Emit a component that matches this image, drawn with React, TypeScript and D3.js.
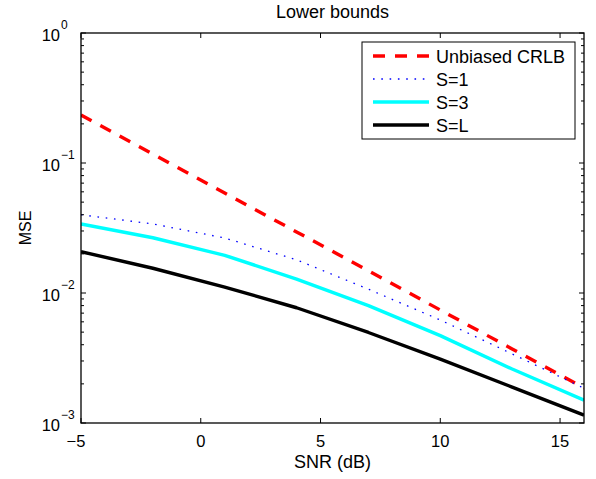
import React from "react";
import * as d3 from "d3";

const snr = [-5, -2, 1, 4, 7, 10, 13, 16];
const crlb = [0.234, 0.117, 0.0588, 0.0295, 0.0148, 0.0074, 0.00371, 0.00186];
const s1 = [0.04, 0.034, 0.0265, 0.018, 0.0107, 0.0062, 0.0034, 0.00185];
const s3 = [0.034, 0.0266, 0.0195, 0.0128, 0.008, 0.0047, 0.0026, 0.0015];
const sL = [0.0208, 0.0155, 0.0111, 0.0077, 0.00497, 0.0031, 0.00189, 0.00115];

const xTicks = [-5, 0, 5, 10, 15];
const yMajor = [1, 0.1, 0.01, 0.001];
const yExp = ["0", "\u22121", "\u22122", "\u22123"];
const legendLabels = ["Unbiased CRLB", "S=1", "S=3", "S=L"];

const W = 596;
const H = 479;
const M = { left: 81, right: 584, top: 33, bottom: 423 };
const FONT = "'Liberation Sans', Arial, Helvetica, sans-serif";

export default function App() {
  const x = d3.scaleLinear().domain([-5, 16]).range([M.left, M.right]);
  const y = d3.scaleLog().domain([0.001, 1]).range([M.bottom, M.top]);

  const series = [
    { data: crlb, color: "#ff0000", width: 3.4, dash: "12,10" },
    { data: s1, color: "#0000ff", width: 1.3, dash: "1.6,6.7" },
    { data: s3, color: "#00ffff", width: 3.4, dash: null },
    { data: sL, color: "#000000", width: 3.4, dash: null },
  ];

  const line = d3
    .line<number>()
    .x((_, i) => x(snr[i]))
    .y((d) => y(d));

  const minor: number[] = [];
  [0.001, 0.01, 0.1].forEach((b) => {
    for (let k = 2; k <= 9; k++) minor.push(b * k);
  });

  const legX0 = 362;
  const legY0 = 42;
  const legW = 213;
  const legH = 97;
  const rowY = (i: number) => 56 + i * 23;

  return (
    <svg
      width={W}
      height={H}
      style={{ position: "absolute", left: 0, top: 0, background: "#fff" }}
      fontFamily={FONT}
    >
      <rect x={0} y={0} width={W} height={H} fill="#fff" />
      <defs>
        <clipPath id="plotclip">
          <rect x={M.left} y={M.top} width={M.right - M.left} height={M.bottom - M.top} />
        </clipPath>
      </defs>

      <g clipPath="url(#plotclip)">
        {series.map((s, i) => (
          <path
            key={i}
            d={line(s.data) || ""}
            fill="none"
            stroke={s.color}
            strokeWidth={s.width}
            strokeDasharray={s.dash || undefined}
            strokeLinecap="butt"
            strokeLinejoin="round"
          />
        ))}
      </g>

      <rect
        x={M.left}
        y={M.top}
        width={M.right - M.left}
        height={M.bottom - M.top}
        fill="none"
        stroke="#000"
        strokeWidth={1.3}
      />

      {xTicks.map((t) => (
        <g key={"xt" + t}>
          <line x1={x(t)} x2={x(t)} y1={M.bottom} y2={M.bottom - 5} stroke="#000" strokeWidth={1} />
          <line x1={x(t)} x2={x(t)} y1={M.top} y2={M.top + 5} stroke="#000" strokeWidth={1} />
          <text
            x={x(t)}
            dx={t < 0 ? -5 : 0}
            y={447}
            textAnchor="middle"
            fontSize={16.5}
            fill="#000"
          >
            {t < 0 ? "\u2212" + Math.abs(t) : String(t)}
          </text>
        </g>
      ))}

      {yMajor.map((t, i) => (
        <g key={"ym" + i}>
          <line x1={M.left} x2={M.left + 5} y1={y(t)} y2={y(t)} stroke="#000" strokeWidth={1} />
          <line x1={M.right} x2={M.right - 5} y1={y(t)} y2={y(t)} stroke="#000" strokeWidth={1} />
          <text x={60} y={y(t) + 8} textAnchor="end" fontSize={16.5} fill="#000">
            10
          </text>
          <text x={61} y={y(t) - 4} textAnchor="start" fontSize={12} fill="#000">
            {yExp[i]}
          </text>
        </g>
      ))}

      {minor.map((t, i) => (
        <g key={"yn" + i}>
          <line x1={M.left} x2={M.left + 3} y1={y(t)} y2={y(t)} stroke="#000" strokeWidth={1} />
          <line x1={M.right} x2={M.right - 3} y1={y(t)} y2={y(t)} stroke="#000" strokeWidth={1} />
        </g>
      ))}

      <text x={(M.left + M.right) / 2} y={18} textAnchor="middle" fontSize={18} fill="#000">
        Lower bounds
      </text>

      <text x={(M.left + M.right) / 2} y={468} textAnchor="middle" fontSize={18} fill="#000">
        SNR (dB)
      </text>

      <text
        transform={`translate(31, ${(M.top + M.bottom) / 2}) rotate(-90)`}
        textAnchor="middle"
        fontSize={16}
        fill="#000"
      >
        MSE
      </text>

      <rect x={legX0} y={legY0} width={legW} height={legH} fill="#fff" stroke="#000" strokeWidth={1} />
      {series.map((s, i) => (
        <g key={"lg" + i}>
          <line
            x1={373}
            x2={429}
            y1={rowY(i)}
            y2={rowY(i)}
            stroke={s.color}
            strokeWidth={s.width}
            strokeDasharray={s.dash || undefined}
          />
          <text x={436} y={rowY(i) + 6.5} fontSize={18} fill="#000">
            {legendLabels[i]}
          </text>
        </g>
      ))}
    </svg>
  );
}
